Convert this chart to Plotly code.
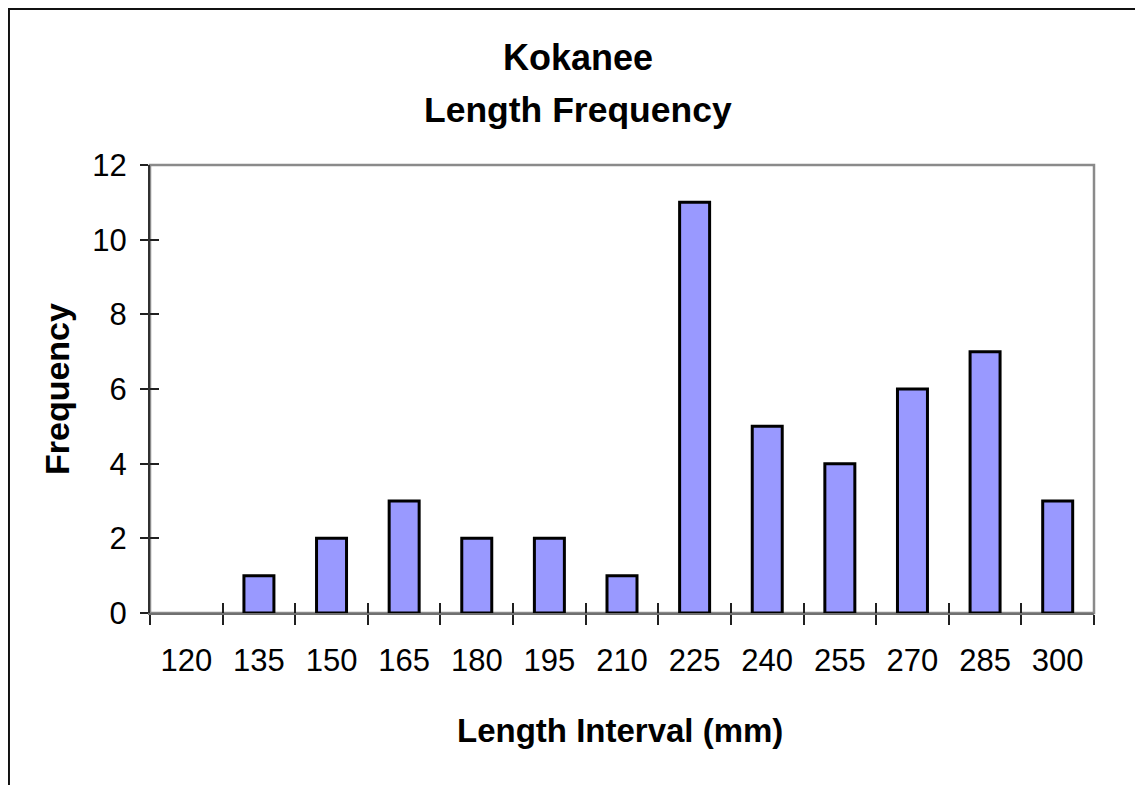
import plotly.graph_objects as go

categories = ["120", "135", "150", "165", "180", "195", "210", "225", "240", "255", "270", "285", "300"]
frequency = [0, 1, 2, 3, 2, 2, 1, 11, 5, 4, 6, 7, 3]
title_lines = ["Kokanee", "Length Frequency"]
x_title = "Length Interval (mm)"
y_title = "Frequency"

FONT = "Liberation Sans, Arial, sans-serif"

fig = go.Figure()
fig.add_trace(go.Bar(
    x=categories, y=frequency,
    marker=dict(color="#9999FF",
                line=dict(color="#000000", width=[0 if v == 0 else 3 for v in frequency])),
    xaxis="x", yaxis="y", showlegend=False, hoverinfo="x+y",
))
# helper (invisible) trace so the overlay axes that draw the inside half of the ticks exist
fig.add_trace(go.Scatter(x=[None], y=[None], xaxis="x2", yaxis="y2", showlegend=False, hoverinfo="skip"))

n = len(categories)
fig.update_layout(
    width=1135, height=777,
    margin=dict(l=142, r=49, t=157, b=172),
    paper_bgcolor="white", plot_bgcolor="white",
    bargap=0.587,
    font=dict(family=FONT, color="black"),
    xaxis=dict(
        type="category", categoryorder="array", categoryarray=categories,
        range=[-0.5, n - 0.5],
        showline=True, linecolor="#707070", linewidth=2,
        ticks="outside", tickson="boundaries", ticklen=10, tickwidth=1.5, tickcolor="#202020",
        showgrid=False, zeroline=False,
        tickfont=dict(size=31, family=FONT, color="black"),
        ticklabelstandoff=19,
        fixedrange=True,
    ),
    yaxis=dict(
        range=[0, 12], dtick=2,
        showline=True, linecolor="#303030", linewidth=2,
        ticks="outside", ticklen=8, tickwidth=1.5, tickcolor="#202020",
        showgrid=False, zeroline=False,
        tickfont=dict(size=31, family=FONT, color="black"),
        ticklabelstandoff=7,
        fixedrange=True,
    ),
    xaxis2=dict(
        overlaying="x", side="bottom", range=[-0.5, n - 0.5],
        tickmode="array", tickvals=[i - 0.5 for i in range(n + 1)],
        ticks="inside", ticklen=10, tickwidth=1.5, tickcolor="#202020",
        showticklabels=False, showline=False, showgrid=False, zeroline=False,
        fixedrange=True,
    ),
    yaxis2=dict(
        overlaying="y", side="left", range=[0, 12], dtick=2,
        ticks="inside", ticklen=9, tickwidth=1.5, tickcolor="#202020",
        showticklabels=False, showline=False, showgrid=False, zeroline=False,
        fixedrange=True,
    ),
    shapes=[
        # gray frame of the plot area (top and right edges visible)
        dict(type="rect", xref="paper", yref="paper", x0=0, x1=1, y0=0, y1=1,
             line=dict(color="#8a8a8a", width=2.5), layer="below"),
        # outer chart border
        dict(type="rect", xref="paper", yref="paper", x0=-0.1494, x1=1.06, y0=-0.40, y1=1.348,
             line=dict(color="#111111", width=2), layer="below"),
    ],
    annotations=[
        dict(text="<b>%s</b>" % title_lines[0], xref="paper", yref="paper", x=0.4534, y=1.241,
             xanchor="center", yanchor="middle", showarrow=False, font=dict(size=36, family=FONT)),
        dict(text="<b>%s</b>" % title_lines[1], xref="paper", yref="paper", x=0.4534, y=1.1228,
             xanchor="center", yanchor="middle", showarrow=False, font=dict(size=35.5, family=FONT)),
        dict(text="<b>%s</b>" % x_title, xref="paper", yref="paper", x=0.4979, y=-0.263,
             xanchor="center", yanchor="middle", showarrow=False, font=dict(size=33, family=FONT)),
        dict(text="<b>%s</b>" % y_title, xref="paper", yref="paper", x=-0.0985, y=0.5,
             xanchor="center", yanchor="middle", textangle=-90, showarrow=False, font=dict(size=34, family=FONT)),
    ],
)

fig.write_html("out.html", config={"displayModeBar": False})
